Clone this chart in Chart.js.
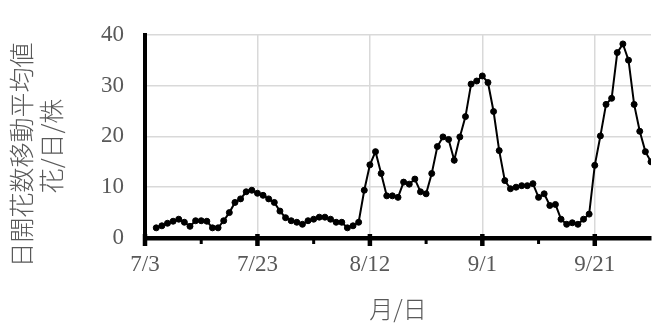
<!DOCTYPE html>
<html lang="ja">
<head>
<meta charset="utf-8">
<title>日開花数移動平均値</title>
<script src="https://cdn.jsdelivr.net/npm/chart.js@4.4.1/dist/chart.umd.min.js"></script>
<style>
  html, body { margin: 0; padding: 0; background: #fff; }
  #wrap { width: 656px; height: 325px; }
</style>
</head>
<body>
<div id="wrap"><canvas id="flowerChart" width="656" height="325"></canvas></div>
<script>
// 日開花数の移動平均値（花/日/株）、7/5〜10/1
const julyValues = [
  2.0, 2.4, 2.9, 3.3, 3.7, 3.1, 2.3, 3.4, 3.4, 3.3,
  2.0, 2.0, 3.4, 5.0, 7.0, 7.7, 9.1, 9.4, 8.8, 8.4,
  7.7, 7.0, 5.3, 4.0, 3.4, 3.1, 2.7
];
const augustValues = [
  3.4, 3.7, 4.1, 4.1, 3.7, 3.1, 3.1, 2.0, 2.4, 3.1,
  9.4, 14.4, 17.0, 12.7, 8.3, 8.3, 8.0, 11.0, 10.6, 11.6,
  9.1, 8.7, 12.7, 18.0, 19.9, 19.4, 15.3, 19.9, 23.9, 30.3,
  30.9
];
const septemberValues = [
  31.9, 30.6, 24.9, 17.2, 11.3, 9.7, 10.0, 10.3, 10.3, 10.7,
  8.0, 8.7, 6.4, 6.6, 3.7, 2.7, 3.0, 2.7, 3.7, 4.7,
  14.3, 20.1, 26.3, 27.5, 36.5, 38.2, 35.0, 26.3, 21.0, 17.0
];
const octoberValues = [15.0];

const tickLabels = ['7/3', '7/23', '8/12', '9/1', '9/21'];
const yTitleLines = ['日開花数移動平均値', '花/日/株'];
const xTitle = '月/日';

const textColor = '#595959';
const gridColor = '#d9d9d9';
const numFont = { family: '"Liberation Serif", "DejaVu Serif", serif', size: 23 };
const cjkFamily = '"Noto Sans CJK JP", "Noto Sans", sans-serif';

// x は 7/3 からの経過日数
const year = 2020;
const startDay = Date.UTC(year, 6, 3);
const series = [
  { month: 7, first: 5, values: julyValues },
  { month: 8, first: 1, values: augustValues },
  { month: 9, first: 1, values: septemberValues },
  { month: 10, first: 1, values: octoberValues }
];
const points = [];
series.forEach(s => {
  s.values.forEach((v, i) => {
    const day = (Date.UTC(year, s.month - 1, s.first + i) - startDay) / 86400000;
    points.push({ x: day, y: v });
  });
});

const labelStep = 20;
const tickStep = 10;

// 目盛り線（主目盛りは軸をまたぐ、補助目盛りは下側のみ）
const axisTicks = {
  id: 'axisTicks',
  afterDraw(chart) {
    const { ctx, chartArea } = chart;
    const xs = chart.scales.x;
    ctx.save();
    ctx.fillStyle = '#000';
    xs.ticks.forEach(t => {
      const px = xs.getPixelForValue(t.value);
      if (t.value % labelStep === 0) {
        ctx.fillRect(px - 2.25, chartArea.bottom - 4, 4.5, 12);
      } else {
        ctx.fillRect(px - 1.5, chartArea.bottom, 3, 6);
      }
    });
    ctx.restore();
  }
};

// 縦軸タイトル（2行、縦書き回転）
const yAxisTitle = {
  id: 'yAxisTitle',
  afterDraw(chart) {
    const ctx = chart.ctx;
    const pos = [[21, 155], [51, 146]];
    ctx.save();
    ctx.fillStyle = textColor;
    ctx.font = '300 25px ' + cjkFamily;
    ctx.textAlign = 'center';
    ctx.textBaseline = 'middle';
    yTitleLines.forEach((line, i) => {
      ctx.save();
      ctx.translate(pos[i][0], pos[i][1]);
      ctx.rotate(-Math.PI / 2);
      ctx.fillText(line, 0, 0);
      ctx.restore();
    });
    ctx.restore();
  }
};

const ctx = document.getElementById('flowerChart').getContext('2d');
new Chart(ctx, {
  type: 'line',
  data: {
    datasets: [{
      data: points,
      borderColor: '#000',
      borderWidth: 2,
      pointRadius: 3,
      pointBorderWidth: 1,
      pointBackgroundColor: '#000',
      pointBorderColor: '#000',
      tension: 0,
      fill: false
    }]
  },
  options: {
    responsive: false,
    animation: false,
    layout: { padding: { top: 18.5, right: 0, bottom: 0, left: 0 } },
    plugins: { legend: { display: false }, tooltip: { enabled: false } },
    scales: {
      x: {
        type: 'linear',
        position: 'bottom',
        min: 0,
        max: 90,
        afterBuildTicks(scale) {
          const ticks = [];
          for (let v = 0; v <= (tickLabels.length - 1) * labelStep; v += tickStep) {
            ticks.push({ value: v });
          }
          scale.ticks = ticks;
        },
        afterFit(scale) { scale.height = 87; },
        border: { color: '#000', width: 4.5 },
        grid: {
          drawTicks: false,
          lineWidth: 1.5,
          color: c => (c.tick && c.tick.value % labelStep === 0 && c.tick.value !== 0) ? gridColor : 'rgba(0,0,0,0)'
        },
        ticks: {
          autoSkip: false,
          maxRotation: 0,
          minRotation: 0,
          padding: 13.5,
          color: textColor,
          font: numFont,
          callback: v => (v % labelStep === 0 ? tickLabels[v / labelStep] : '')
        },
        title: {
          display: true,
          text: xTitle,
          color: textColor,
          font: { family: cjkFamily, size: 24, weight: 300 },
          padding: { top: 0, bottom: 1.6 }
        }
      },
      y: {
        min: 0,
        max: 40,
        afterFit(scale) { scale.width = 145; },
        border: { color: '#000', width: 4 },
        grid: {
          drawTicks: false,
          lineWidth: 1.5,
          color: c => (c.tick && c.tick.value !== 0) ? gridColor : 'rgba(0,0,0,0)'
        },
        ticks: {
          stepSize: 10,
          padding: 21,
          color: textColor,
          font: numFont
        }
      }
    }
  },
  plugins: [axisTicks, yAxisTitle]
});
</script>
</body>
</html>
